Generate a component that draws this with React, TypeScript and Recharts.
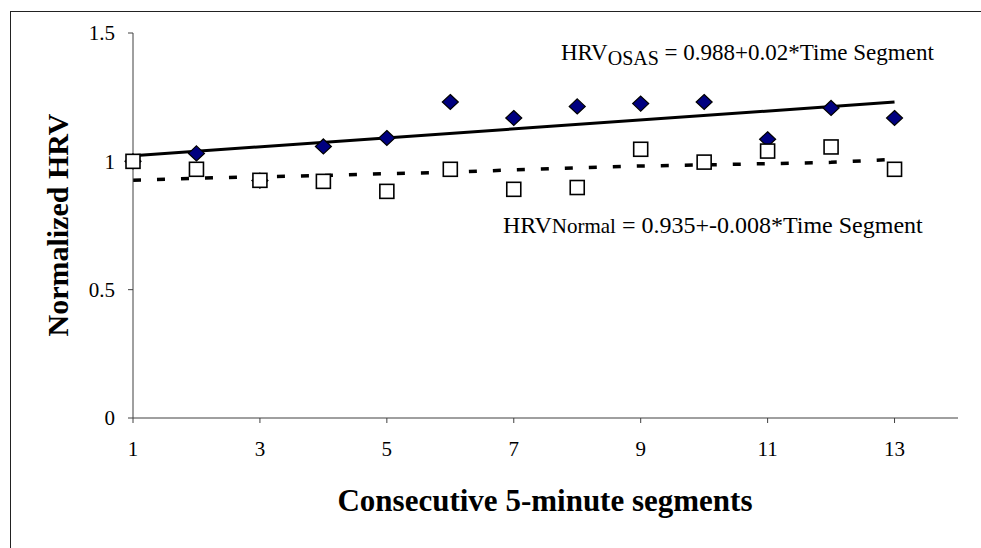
import { LineChart, Line, XAxis, YAxis, Customized } from "recharts";

// time segment index
const segments = [1, 2, 3, 4, 5, 6, 7, 8, 9, 10, 11, 12, 13];
// OSAS group (filled diamonds)
const osasHrv = [1.0, 1.031, 0.925, 1.058, 1.091, 1.231, 1.169, 1.214, 1.225, 1.231, 1.086, 1.208, 1.169];
// normal group (open squares)
const normalHrv = [1.0, 0.969, 0.926, 0.922, 0.883, 0.969, 0.891, 0.898, 1.047, 0.997, 1.04, 1.056, 0.969];
// dashed fit for the normal group, read at each segment
const normalFit = [0.926, 0.934, 0.94, 0.945, 0.952, 0.957, 0.967, 0.975, 0.982, 0.986, 0.991, 0.996, 1.008];
// solid fit for the OSAS group, only its two ends
const osasFitSegments = [1, 13];
const osasFitValues = [1.022, 1.231];

const xTicks = [1, 3, 5, 7, 9, 11, 13];
const yTicks = [0, 0.5, 1, 1.5];

const rows = segments.map((t, i) => {
  const k = osasFitSegments.indexOf(t);
  return {
    t,
    osas: osasHrv[i],
    normal: normalHrv[i],
    normalFit: normalFit[i],
    osasFit: k >= 0 ? osasFitValues[k] : null,
  };
});

const FONT = '"Liberation Serif", "Times New Roman", serif';
const AXIS = "#404040";

const Diamond = (props: any) => {
  const { cx, cy, index } = props;
  if (cx == null || cy == null) return <g key={`d${index}`} />;
  return (
    <path
      key={`d${index}`}
      d={`M${cx},${cy - 7.5} L${cx + 8},${cy} L${cx},${cy + 7.5} L${cx - 8},${cy} Z`}
      fill="#000080"
      stroke="#000"
      strokeWidth={1.2}
    />
  );
};

const Square = (props: any) => {
  const { cx, cy, index } = props;
  if (cx == null || cy == null) return <g key={`s${index}`} />;
  return (
    <rect
      key={`s${index}`}
      x={cx - 7}
      y={cy - 7}
      width={14}
      height={14}
      fill="#fff"
      stroke="#000"
      strokeWidth={1.6}
    />
  );
};

const Texts = () => (
  <g fontFamily={FONT} fill="#000">
    <text x={561} y={60} fontSize={23}>
      HRV
      <tspan fontSize={20} dy={5}>OSAS</tspan>
      <tspan fontSize={23} dy={-5}> = 0.988+0.02*Time Segment</tspan>
    </text>
    <text x={503} y={233} fontSize={24}>
      HRV
      <tspan fontSize={21}>Normal</tspan>
      <tspan fontSize={24}> = 0.935+-0.008*Time Segment</tspan>
    </text>
    <text x={545} y={511} fontSize={31} fontWeight="bold" textAnchor="middle">
      Consecutive 5-minute segments
    </text>
    <text
      transform="rotate(-90)"
      x={-225}
      y={68}
      fontSize={30}
      fontWeight="bold"
      textAnchor="middle"
    >
      Normalized HRV
    </text>
  </g>
);

export default function App() {
  return (
    <div
      style={{
        position: "fixed",
        left: 0,
        top: 0,
        width: 981,
        height: 548,
        overflow: "hidden",
        background: "#fff",
      }}
    >
      <div
        style={{
          position: "absolute",
          left: 10,
          top: 11,
          width: 1200,
          height: 1200,
          border: "1px solid #222",
        }}
      />
      <div style={{ position: "absolute", left: 0, top: 0 }}>
        <LineChart
          width={981}
          height={548}
          data={rows}
          margin={{ top: 33, right: 23, bottom: 90, left: 73 }}
        >
          <XAxis
            dataKey="t"
            type="number"
            domain={[1, 14]}
            ticks={xTicks}
            height={40}
            stroke={AXIS}
            tickSize={5}
            tickMargin={18}
            tick={{ fill: "#000", fontSize: 21, fontFamily: FONT }}
          />
          <YAxis
            type="number"
            domain={[0, 1.5]}
            ticks={yTicks}
            width={60}
            stroke={AXIS}
            tickSize={5}
            tickMargin={13}
            tick={{ fill: "#000", fontSize: 21, fontFamily: FONT }}
          />
          <Line
            dataKey="osas"
            stroke="none"
            dot={Diamond}
            activeDot={false}
            isAnimationActive={false}
          />
          <Line
            dataKey="normal"
            stroke="none"
            dot={Square}
            activeDot={false}
            isAnimationActive={false}
          />
          <Line
            dataKey="osasFit"
            type="linear"
            stroke="#000"
            strokeWidth={3}
            connectNulls
            dot={false}
            activeDot={false}
            isAnimationActive={false}
          />
          <Line
            dataKey="normalFit"
            type="linear"
            stroke="#000"
            strokeWidth={3.5}
            strokeDasharray="8 16"
            dot={false}
            activeDot={false}
            isAnimationActive={false}
          />
          <Customized component={Texts} />
        </LineChart>
      </div>
    </div>
  );
}
